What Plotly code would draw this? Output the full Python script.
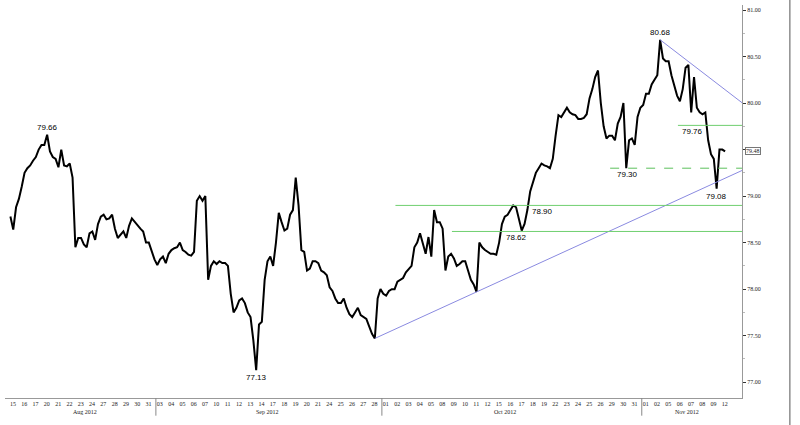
import plotly.graph_objects as go

# ---------------- data ----------------
trading_days = [
    "2012-08-15", "2012-08-16", "2012-08-17", "2012-08-20", "2012-08-21", "2012-08-22",
    "2012-08-23", "2012-08-24", "2012-08-27", "2012-08-28", "2012-08-29", "2012-08-30",
    "2012-08-31", "2012-09-03", "2012-09-04", "2012-09-05", "2012-09-06", "2012-09-07",
    "2012-09-10", "2012-09-11", "2012-09-12", "2012-09-13", "2012-09-14", "2012-09-17",
    "2012-09-18", "2012-09-19", "2012-09-20", "2012-09-21", "2012-09-24", "2012-09-25",
    "2012-09-26", "2012-09-27", "2012-09-28", "2012-10-01", "2012-10-02", "2012-10-03",
    "2012-10-04", "2012-10-05", "2012-10-08", "2012-10-09", "2012-10-10", "2012-10-11",
    "2012-10-12", "2012-10-15", "2012-10-16", "2012-10-17", "2012-10-18", "2012-10-19",
    "2012-10-22", "2012-10-23", "2012-10-24", "2012-10-25", "2012-10-26", "2012-10-29",
    "2012-10-30", "2012-10-31", "2012-11-01", "2012-11-02", "2012-11-05", "2012-11-06",
    "2012-11-07", "2012-11-08", "2012-11-09", "2012-11-12",
]

# intraday prices, 4 readings per trading day (6-hour steps)
prices_by_day = [
    [78.78, 78.64, 78.88, 78.97], [79.10, 79.25, 79.30, 79.33], [79.38, 79.42, 79.50, 79.55],
    [79.55, 79.66, 79.48, 79.42], [79.40, 79.31, 79.50, 79.33], [79.32, 79.35, 79.20, 78.45],
    [78.55, 78.55, 78.48, 78.45], [78.60, 78.62, 78.53, 78.70], [78.78, 78.80, 78.75, 78.76],
    [78.80, 78.65, 78.55, 78.58], [78.62, 78.55, 78.68, 78.76], [78.72, 78.68, 78.65, 78.62],
    [78.50, 78.50, 78.40, 78.32], [78.26, 78.32, 78.35, 78.28], [78.38, 78.42, 78.44, 78.45],
    [78.50, 78.42, 78.40, 78.37], [78.36, 78.40, 78.95, 79.00], [78.95, 79.00, 78.10, 78.25],
    [78.30, 78.27, 78.30, 78.28], [78.28, 78.25, 77.95, 77.75], [77.80, 77.88, 77.90, 77.85],
    [77.75, 77.70, 77.45, 77.13], [77.62, 77.65, 78.10, 78.30], [78.35, 78.25, 78.50, 78.82],
    [78.72, 78.63, 78.65, 78.80], [78.85, 79.20, 78.90, 78.42], [78.40, 78.20, 78.22, 78.30],
    [78.30, 78.28, 78.20, 78.18], [78.15, 78.02, 77.98, 77.90], [77.85, 77.85, 77.90, 77.80],
    [77.73, 77.70, 77.75, 77.80], [77.72, 77.70, 77.68, 77.60], [77.52, 77.47, 77.90, 78.00],
    [77.95, 77.93, 77.98, 78.00], [78.00, 78.08, 78.10, 78.12], [78.18, 78.22, 78.25, 78.45],
    [78.50, 78.60, 78.50, 78.38], [78.56, 78.35, 78.85, 78.72], [78.72, 78.65, 78.20, 78.35],
    [78.38, 78.33, 78.25, 78.27], [78.30, 78.30, 78.20, 78.10], [78.05, 77.97, 78.50, 78.45],
    [78.42, 78.40, 78.38, 78.38], [78.37, 78.50, 78.70, 78.78], [78.80, 78.85, 78.90, 78.88],
    [78.75, 78.63, 78.70, 78.85], [79.05, 79.15, 79.25, 79.30], [79.35, 79.33, 79.32, 79.30],
    [79.40, 79.65, 79.87, 79.85], [79.90, 79.95, 79.90, 79.88], [79.87, 79.83, 79.83, 79.84],
    [79.88, 80.05, 80.15, 80.28], [80.35, 80.00, 79.75, 79.62], [79.65, 79.65, 79.60, 79.78],
    [79.85, 80.00, 79.30, 79.60], [79.62, 79.55, 79.85, 79.95], [79.98, 80.10, 80.10, 80.20],
    [80.25, 80.30, 80.68, 80.48], [80.45, 80.45, 80.30, 80.20], [80.08, 80.02, 80.15, 80.38],
    [80.41, 79.90, 80.28, 79.95], [79.90, 79.88, 79.90, 79.60], [79.45, 79.40, 79.08, 79.50],
    [79.50, 79.48],
]

month_labels = ["Aug 2012", "Sep 2012", "Oct 2012", "Nov 2012"]

# horizontal support / resistance levels and the day they start from
levels = [78.90, 78.62, 79.76, 79.30]
level_start_days = ["2012-10-02", "2012-10-09", "2012-11-06", "2012-10-29"]
level_dashed = [False, False, False, True]

# trendline anchors (day, slot, price)
uptrend_anchors = [("2012-09-28", 1, 77.47), ("2012-10-11", 1, 77.97)]
downtrend_anchors = [("2012-11-02", 2, 80.68), ("2012-11-06", 3, 80.47)]

last_price = 79.48
annotated = [  # label, day, slot, price, position
    ("79.66", "2012-08-20", 1, 79.66, "above"),
    ("77.13", "2012-09-13", 3, 77.13, "below"),
    ("80.68", "2012-11-02", 2, 80.68, "above"),
    ("79.08", "2012-11-09", 2, 79.08, "below"),
]

# ---------------- build ----------------
day_index = {d: i for i, d in enumerate(trading_days)}
xs, ys = [], []
for i, vals in enumerate(prices_by_day):
    for k, v in enumerate(vals):
        xs.append(i + (k + 0.5) / 4)
        ys.append(v)

def xpos(day, slot):
    return day_index[day] + (slot + 0.5) / 4

X_MIN, X_MAX = -0.354, 64.87
Y_MIN, Y_MAX = 76.83, 81.054

fig = go.Figure()
fig.add_trace(go.Scatter(x=xs, y=ys, mode="lines",
                         line=dict(color="black", width=2), hoverinfo="skip",
                         showlegend=False))

shapes = []
# trendlines extended to the right edge
for anchors in (uptrend_anchors, downtrend_anchors):
    (d0, s0, p0), (d1, s1, p1) = anchors
    x0, x1 = xpos(d0, s0), xpos(d1, s1)
    slope = (p1 - p0) / (x1 - x0)
    shapes.append(dict(type="line", xref="x", yref="y", x0=x0, y0=p0,
                       x1=X_MAX, y1=p0 + slope * (X_MAX - x0),
                       line=dict(color="#8a8ae0", width=1)))
# horizontal levels
for lv, sd, dash in zip(levels, level_start_days, level_dashed):
    shapes.append(dict(type="line", xref="x", yref="y", x0=day_index[sd] + 0.2, x1=X_MAX,
                       y0=lv, y1=lv,
                       line=dict(color="#5cc05c" if dash else "#6fcf6f", width=1,
                                 dash="dash" if dash else "solid")))
# month separators under the axis
for i, d in enumerate(trading_days[1:], start=1):
    if d[5:7] != trading_days[i - 1][5:7]:
        shapes.append(dict(type="line", xref="x", yref="paper", x0=i, x1=i, y0=0, y1=-0.045,
                           line=dict(color="#888", width=1)))
# right frame line
shapes.append(dict(type="line", xref="paper", yref="paper", x0=1.065, x1=1.065,
                   y0=-0.07, y1=1.02, line=dict(color="#555", width=1)))

annotations = []
lab_font = dict(family="Liberation Sans, Arial", size=8, color="#000")
for text, d, s, p, pos in annotated:
    annotations.append(dict(x=xpos(d, s), y=p, text=text, showarrow=False, font=lab_font,
                            xanchor="center", yanchor="bottom" if pos == "above" else "top",
                            yshift=1 if pos == "above" else -1))
# level labels
level_label_x = {78.90: ("2012-10-18", 0.1, "left"), 78.62: ("2012-10-16", 0.9, "center"),
                 79.76: ("2012-11-07", 0.45, "center"), 79.30: ("2012-10-30", 0.7, "center")}
for lv in levels:
    d, frac, anc = level_label_x[lv]
    annotations.append(dict(x=day_index[d] + frac, y=lv, text=f"{lv:.2f}", showarrow=False,
                            font=lab_font, xanchor=anc, yanchor="top", yshift=0))
# month labels
month_pos = [6.7, 22.9, 43.9, 60.0]
for m, mx in zip(month_labels, month_pos):
    annotations.append(dict(x=mx, xref="x", y=-0.035, yref="paper", text=m, showarrow=False,
                            font=dict(family="Liberation Serif, serif", size=6, color="#222"),
                            xanchor="center", yanchor="middle"))
# last price box
annotations.append(dict(x=1.0, xref="paper", y=last_price, yref="y", text=f"{last_price:.2f}",
                        showarrow=False, xanchor="left", yanchor="middle", xshift=3,
                        font=dict(family="Liberation Serif, serif", size=6, color="#222"),
                        bordercolor="#777", borderwidth=1, borderpad=0, bgcolor="white"))

tick_vals = [i + 0.35 for i in range(len(trading_days))]
tick_text = [d[8:10] for d in trading_days]

fig.update_layout(
    width=800, height=425,
    margin=dict(l=5, r=58, t=5, b=27),
    paper_bgcolor="white", plot_bgcolor="white",
    showlegend=False,
    shapes=shapes, annotations=annotations,
    xaxis=dict(range=[X_MIN, X_MAX], showgrid=False, zeroline=False, automargin=False,
               showline=True, linecolor="#999", linewidth=1,
               tickmode="array", tickvals=tick_vals, ticktext=tick_text,
               ticks="", tickfont=dict(family="Liberation Serif, serif", size=6, color="#222")),
    yaxis=dict(range=[Y_MIN, Y_MAX], side="right", showgrid=False, zeroline=False,
               automargin=False,
               showline=True, linecolor="#999", linewidth=1,
               tickmode="array", tickvals=[77.0, 77.5, 78.0, 78.5, 79.0, 79.5, 80.0, 80.5, 81.0],
               tickformat=".2f", ticks="outside", ticklen=3, tickcolor="#333",
               minor=dict(tickmode="array", tickvals=[77.25, 77.75, 78.25, 78.75, 79.25,
                                                      79.75, 80.25, 80.75],
                          ticks="outside", ticklen=2, tickcolor="#bbb"),
               tickfont=dict(family="Liberation Serif, serif", size=6, color="#222")),
)

fig.write_html("out.html", config={"displayModeBar": False},
               post_script="document.body.style.margin='0';document.body.style.padding='0';")
